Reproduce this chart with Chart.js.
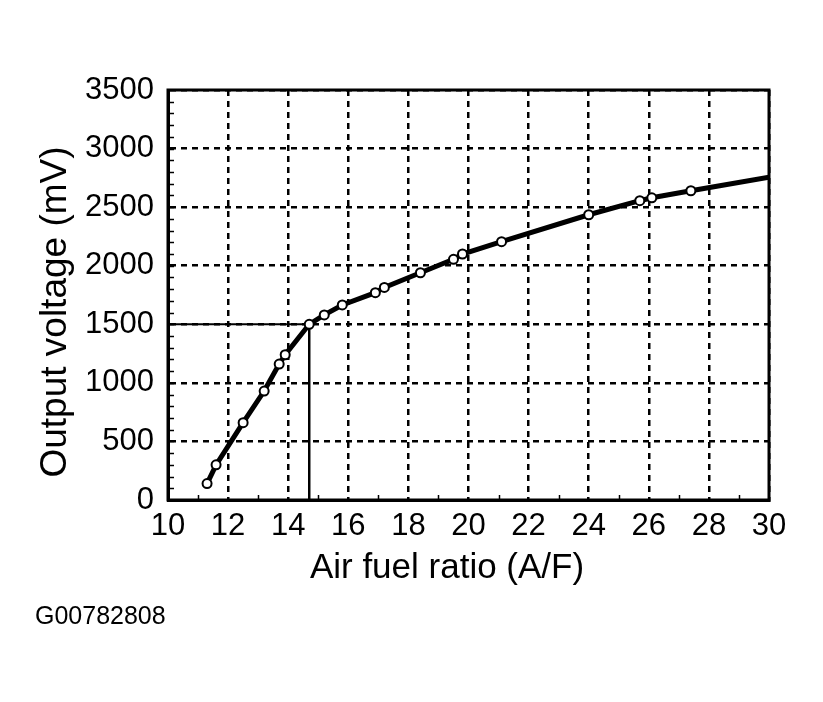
<!DOCTYPE html>
<html lang="en">
  <head>
    <meta charset="utf-8" />
    <title>A/F sensor output voltage</title>
    <script src="https://cdn.jsdelivr.net/npm/chart.js@4.4.0/dist/chart.umd.min.js"></script>
    <style>
      html, body { margin: 0; padding: 0; background: #fff; }
      #wrap { width: 823px; height: 702px; }
    </style>
  </head>
  <body>
    <div id="wrap"><canvas id="myChart" width="823" height="702"></canvas></div>
    <script>
      // measured points (air fuel ratio / output voltage mV)
      var afr = [11.3, 11.6, 12.5, 13.2, 13.7, 13.9, 14.7, 15.2, 15.8, 16.9, 17.2, 18.4, 19.5, 19.8, 21.1, 24.0, 25.7, 26.1, 27.4];
      var mv = [140, 300, 660, 930, 1160, 1240, 1500, 1580, 1665, 1770, 1815, 1940, 2055, 2100, 2205, 2435, 2555, 2580, 2640];
      // curve keeps going to the right edge without a marker
      var afrEnd = 30;
      var mvEnd = 2755;
      // stoichiometric reference lines
      var refAfr = 14.7;
      var refMv = 1500;

      var xTicks = [10, 12, 14, 16, 18, 20, 22, 24, 26, 28, 30];
      var yTicks = [0, 500, 1000, 1500, 2000, 2500, 3000, 3500];
      var xTitle = "Air fuel ratio (A/F)";
      var yTitle = "Output voltage (mV)";
      var figId = "G00782808";

      var FONT = '"Liberation Sans", Arial, sans-serif';

      var curve = afr.map(function (v, i) { return { x: v, y: mv[i] }; });
      curve.push({ x: afrEnd, y: mvEnd });
      var radii = afr.map(function () { return 4.5; });
      radii.push(0);

      const frame = {
        id: "frame",
        beforeDatasetsDraw(chart) {
          const { ctx, chartArea: { left, right, top, bottom }, scales: { x, y } } = chart;
          ctx.save();
          ctx.strokeStyle = "#000";
          ctx.lineWidth = 1.5;
          // small inner ticks every 100 mV and every 1 A/F
          for (var v = 100; v < 3500; v += 100) {
            var py = Math.round(y.getPixelForValue(v)) + 0.5;
            ctx.beginPath();
            ctx.moveTo(left, py);
            ctx.lineTo(left + 6, py);
            ctx.stroke();
          }
          for (var a = 11; a < 30; a += 2) {
            var px = Math.round(x.getPixelForValue(a)) + 0.5;
            ctx.beginPath();
            ctx.moveTo(px, bottom);
            ctx.lineTo(px, bottom - 5);
            ctx.stroke();
          }
          ctx.restore();
        },
        afterDraw(chart) {
          const { ctx, chartArea: { left, right, top, bottom } } = chart;
          ctx.save();
          ctx.strokeStyle = "#000";
          ctx.lineWidth = 3;
          ctx.strokeRect(left, top, right - left, bottom - top);

          ctx.fillStyle = "#000";
          ctx.textBaseline = "alphabetic";
          ctx.textAlign = "center";
          ctx.font = "35px " + FONT;
          ctx.fillText(xTitle, 447, 578);

          ctx.save();
          ctx.translate(66, 312);
          ctx.rotate(-Math.PI / 2);
          ctx.font = "37px " + FONT;
          ctx.fillText(yTitle, 0, 0);
          ctx.restore();

          ctx.textAlign = "left";
          ctx.font = "25px " + FONT;
          ctx.fillText(figId, 35, 624);
          ctx.restore();
        },
      };

      const config = {
        type: "scatter",
        data: {
          datasets: [
            {
              label: "curve",
              data: curve,
              showLine: true,
              borderColor: "#000",
              borderWidth: 5,
              tension: 0,
              pointRadius: radii,
              pointBackgroundColor: "#fff",
              pointBorderColor: "#000",
              pointBorderWidth: 2,
              order: 1,
            },
            {
              label: "refH",
              data: [{ x: 10, y: refMv }, { x: refAfr, y: refMv }],
              showLine: true,
              borderColor: "#000",
              borderWidth: 2,
              pointRadius: 0,
              order: 2,
            },
            {
              label: "refV",
              data: [{ x: refAfr, y: 0 }, { x: refAfr, y: refMv }],
              showLine: true,
              borderColor: "#000",
              borderWidth: 2.5,
              pointRadius: 0,
              order: 2,
            },
          ],
        },
        options: {
          responsive: false,
          animation: false,
          devicePixelRatio: 1,
          layout: { padding: { left: 0, top: 90, right: 54, bottom: 142 } },
          plugins: {
            legend: { display: false },
            tooltip: { enabled: false },
          },
          scales: {
            x: {
              type: "linear",
              min: 10,
              max: 30,
              afterBuildTicks: function (scale) {
                scale.ticks = xTicks.map(function (v) { return { value: v }; });
              },
              afterFit: function (scale) { scale.height = 60; },
              grid: { color: "#000", lineWidth: 2.5, drawTicks: false },
              border: { display: true, color: "#000", width: 3, dash: [6, 5] },
              ticks: {
                color: "#000",
                padding: 8,
                maxRotation: 0,
                callback: function (v) { return String(v); },
                font: { family: FONT, size: 31 },
              },
            },
            y: {
              type: "linear",
              min: 0,
              max: 3500,
              afterBuildTicks: function (scale) {
                scale.ticks = yTicks.map(function (v) { return { value: v }; });
              },
              afterFit: function (scale) { scale.width = 168; },
              grid: { color: "#000", lineWidth: 2.5, drawTicks: false },
              border: { display: true, color: "#000", width: 3, dash: [6, 5] },
              ticks: {
                color: "#000",
                padding: 14,
                callback: function (v) { return String(v); },
                font: { family: FONT, size: 31 },
              },
            },
          },
        },
        plugins: [frame],
      };

      var myChart = new Chart(document.getElementById("myChart"), config);
    </script>
  </body>
</html>
